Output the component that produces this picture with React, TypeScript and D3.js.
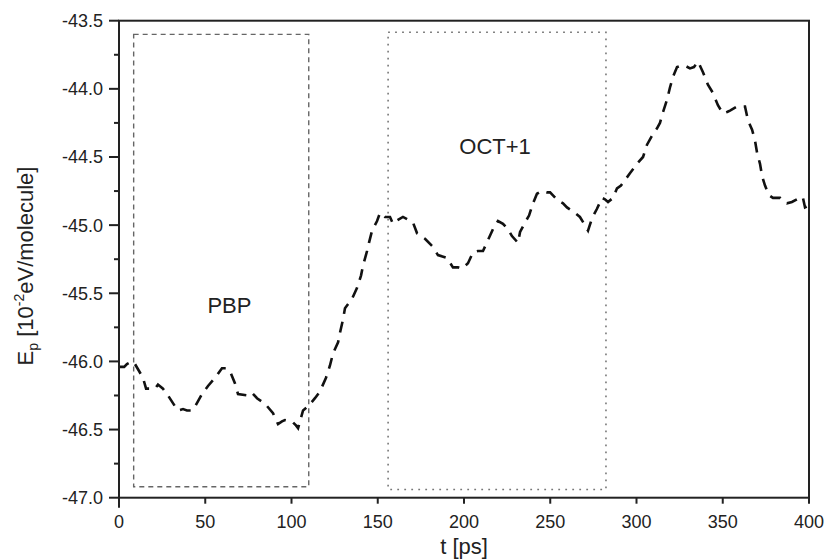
import React from "react";
import * as d3 from "d3";

const timePs = [0,3,4.6,7.5,9.3,13.9,15.7,18,20.9,22.6,25.5,28.4,32.5,34.2,37.1,39.4,42.3,44.1,48.1,51.6,55.7,57.4,59.7,62,64.3,67.2,69,74.8,77.1,80,84.6,89.3,92.2,94.5,96.2,100.3,102.6,103.8,106.7,109.6,113.6,116.5,120,122.3,124.1,127,128.1,129.9,131,135.1,138,140.3,141.4,143.8,144.9,146.7,149.6,151.3,154.2,157.1,158.8,160.6,164.6,167.5,170.4,172.8,175.1,177.4,182,184.9,190.1,193.6,196.5,198.8,202.3,205.2,208.1,211,213.9,216.8,219.7,222.6,225.5,227.8,231.3,232.5,235.4,237.7,240,242.3,245.2,248.1,249.9,254.5,257.4,259.7,264.3,267.2,270.1,271.9,274.2,277.1,280,281.7,283.5,286.4,288.7,291,293.3,296.2,300.3,303.8,306.1,309.6,311.9,313.6,315.4,317.7,319.4,321.2,323.5,325.8,328.1,331,333.3,335.7,338.6,341.4,344.3,347.2,350.1,352.5,354.2,358.3,360.6,362.9,364.6,367,368.7,369.9,371.6,372.8,374.5,376.8,379.1,383.2,385.5,387.2,390.1,393,395.4,396.5,397.7,399.4];

const energy = [-46.04,-46.04,-46.02,-46.00,-46.02,-46.12,-46.20,-46.20,-46.20,-46.17,-46.20,-46.25,-46.33,-46.36,-46.35,-46.36,-46.36,-46.33,-46.24,-46.18,-46.12,-46.09,-46.05,-46.05,-46.07,-46.16,-46.24,-46.25,-46.23,-46.27,-46.31,-46.38,-46.46,-46.44,-46.43,-46.44,-46.47,-46.49,-46.36,-46.33,-46.27,-46.22,-46.12,-46.03,-45.94,-45.86,-45.79,-45.69,-45.61,-45.54,-45.46,-45.37,-45.30,-45.19,-45.13,-45.04,-44.97,-44.91,-44.94,-44.94,-44.99,-44.97,-44.94,-44.96,-44.98,-45.06,-45.08,-45.10,-45.16,-45.22,-45.24,-45.31,-45.31,-45.32,-45.28,-45.20,-45.19,-45.19,-45.11,-45.03,-44.97,-44.99,-45.03,-45.08,-45.13,-45.05,-44.98,-44.93,-44.84,-44.77,-44.75,-44.76,-44.76,-44.82,-44.84,-44.87,-44.91,-44.94,-45.00,-45.04,-44.95,-44.88,-44.80,-44.81,-44.83,-44.80,-44.73,-44.71,-44.67,-44.62,-44.55,-44.50,-44.41,-44.33,-44.29,-44.25,-44.17,-44.08,-43.99,-43.91,-43.84,-43.83,-43.83,-43.85,-43.84,-43.80,-43.88,-43.97,-44.03,-44.12,-44.18,-44.17,-44.16,-44.13,-44.13,-44.13,-44.23,-44.30,-44.38,-44.47,-44.55,-44.64,-44.71,-44.78,-44.80,-44.80,-44.83,-44.84,-44.83,-44.81,-44.79,-44.80,-44.87,-44.86];

const xTicks = [0, 50, 100, 150, 200, 250, 300, 350, 400];
const yTicks = [-47.0, -46.5, -46.0, -45.5, -45.0, -44.5, -44.0, -43.5];
const yMinorTicks = [-46.75, -46.25, -45.75, -45.25, -44.75, -44.25, -43.75];

// region boxes: [t0, t1, e0, e1]
const pbpBox = [8.5, 110, -46.92, -43.6];
const octBox = [156, 282.3, -46.94, -43.585];
const pbpLabel = { t: 64, e: -45.6, text: "PBP" };
const octLabel = { t: 218, e: -44.5, text: "OCT+1" };

const W = 824, H = 559;
const M = { left: 119, right: 809, top: 20.7, bottom: 497.7 };
const FONT = "'Liberation Sans', Arial, Helvetica, sans-serif";

export default function App() {
  const x = d3.scaleLinear().domain([0, 400]).range([M.left, M.right]);
  const y = d3.scaleLinear().domain([-47, -43.5]).range([M.bottom, M.top]);
  const pts: [number, number][] = timePs.map((t, i) => [t, energy[i]]);
  const line = d3.line<[number, number]>().x(d => x(d[0])).y(d => y(d[1]));
  const fmt = (v: number) => d3.format(".1f")(v).replace("\u2212", "-");
  const box = (b: number[]) => ({
    x: x(b[0]), y: y(b[3]), w: x(b[1]) - x(b[0]), h: y(b[2]) - y(b[3]),
  });
  const pb = box(pbpBox);
  const ob = box(octBox);
  return (
    <svg width={W} height={H} style={{ position: "absolute", left: 0, top: 0, background: "#fff" }} fontFamily={FONT}>
      <rect x={pb.x} y={pb.y} width={pb.w} height={pb.h} fill="none" stroke="#666" strokeWidth={1.4} strokeDasharray="5 4" />
      <rect x={ob.x} y={ob.y} width={ob.w} height={ob.h} fill="none" stroke="#777" strokeWidth={1.6} strokeDasharray="1.8 5.2" />
      <path d={line(pts) || ""} fill="none" stroke="#111" strokeWidth={2.6} strokeDasharray="11 8" />
      {/* frame */}
      <rect x={M.left} y={M.top} width={M.right - M.left} height={M.bottom - M.top} fill="none" stroke="#222" strokeWidth={2} />
      {/* x ticks */}
      {xTicks.map(t => (
        <g key={"x" + t}>
          <line x1={x(t)} x2={x(t)} y1={M.bottom} y2={M.bottom + (t === 0 ? 10 : 6)} stroke="#222" strokeWidth={2} />
          <text x={x(t)} y={528} textAnchor="middle" fontSize={18} fill="#222">{t}</text>
        </g>
      ))}
      {yTicks.map(v => (
        <g key={"y" + v}>
          <line x1={M.left - 10} x2={M.left} y1={y(v)} y2={y(v)} stroke="#222" strokeWidth={2} />
          <text x={103} y={y(v) + 6.5} textAnchor="end" fontSize={18} fill="#222">{fmt(v)}</text>
        </g>
      ))}
      {yMinorTicks.map(v => (
        <line key={"m" + v} x1={M.left - 5} x2={M.left} y1={y(v)} y2={y(v)} stroke="#222" strokeWidth={2} />
      ))}
      <text x={x(pbpLabel.t)} y={y(pbpLabel.e) + 6} textAnchor="middle" fontSize={22} fill="#222">{pbpLabel.text}</text>
      <text x={x(octLabel.t)} y={154} textAnchor="middle" fontSize={22} fill="#222">{octLabel.text}</text>
      <text x={(M.left + M.right) / 2} y={554} textAnchor="middle" fontSize={22} fill="#222">t [ps]</text>
      <text transform={`translate(33,266) rotate(-90)`} textAnchor="middle" fontSize={22} fill="#222">
        E<tspan fontSize={14} dy={5}>p</tspan>
        <tspan dy={-5}> [10</tspan>
        <tspan fontSize={14} dy={-9}>-2</tspan>
        <tspan dy={9}>eV/molecule]</tspan>
      </text>
    </svg>
  );
}
